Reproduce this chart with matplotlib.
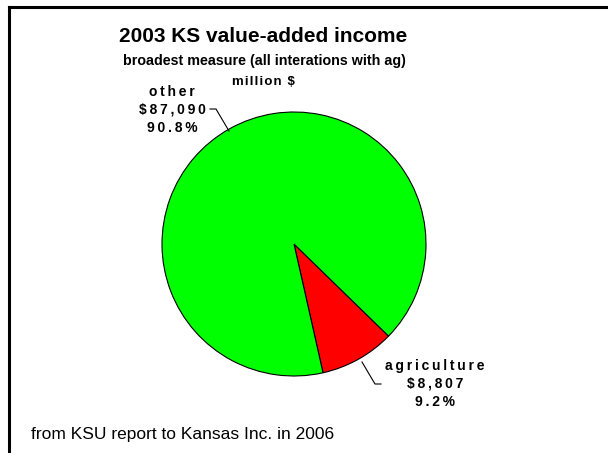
import matplotlib.pyplot as plt
from matplotlib.lines import Line2D

# chart data
sectors = ["agriculture", "other"]
values = [8807, 87090]
shares = [9.2, 90.8]
colors = ["#ff0000", "#00ff00"]

plt.rcParams['font.family'] = ['Liberation Sans', 'DejaVu Sans']

W, H = 608, 453
fig = plt.figure(figsize=(W / 100, H / 100), dpi=100)

# pie centre and radius in pixels
cx, cy, r = 294, 244, 132
ax = fig.add_axes([(cx - r) / W, (H - cy - r) / H, 2 * r / W, 2 * r / H])
ax.pie(values, colors=colors, startangle=-77.3, counterclock=True, radius=1,
       wedgeprops=dict(edgecolor="black", linewidth=0.8))
ax.set_xlim(-1, 1)
ax.set_ylim(-1, 1)
ax.set_aspect("equal")
ax.axis("off")


def px(x, y):
    return (x / W, 1 - y / H)


def spaced(s, sep="\u200a"):
    return sep.join(s)


# frame (only top and left edges visible)
fig.add_artist(Line2D([8.5 / W, 1], [1 - 7 / H, 1 - 7 / H], color="black", lw=2.2))
fig.add_artist(Line2D([8.5 / W, 8.5 / W], [0, 1 - 7 / H], color="black", lw=2.2))

# titles
fig.text(*px(263, 37), "2003 KS value-added income", ha="center", va="center",
         fontsize=15, fontweight="bold")
fig.text(*px(264, 61), "broadest measure (all interations with ag)", ha="center",
         va="center", fontsize=10.3, fontweight="bold")
fig.text(*px(263, 82), spaced("million $"), ha="center", va="center",
         fontsize=9.5, fontweight="bold")

# slice labels
labels = {
    "other": (172, [92, 110, 128]),
    "agriculture": (435, [366, 384, 402]),
}
for name, val, pct in zip(sectors, values, shares):
    x, ys = labels[name]
    for y, s in zip(ys, [name, f"${val:,}", f"{pct}%"]):
        fig.text(*px(x, y), spaced(s, "\u2009"), ha="center", va="center",
                 fontsize=10, fontweight="bold")

# leader lines
for pts in ([(210, 109), (216, 109), (229, 131)],
            [(362, 362), (375, 384), (381, 384)]):
    xs = [p[0] / W for p in pts]
    ys = [1 - p[1] / H for p in pts]
    fig.add_artist(Line2D(xs, ys, color="black", lw=0.8))

fig.text(*px(31, 434), "from KSU report to Kansas Inc. in 2006", ha="left",
         va="center", fontsize=12.5)

fig.savefig("out.png", dpi=100)
